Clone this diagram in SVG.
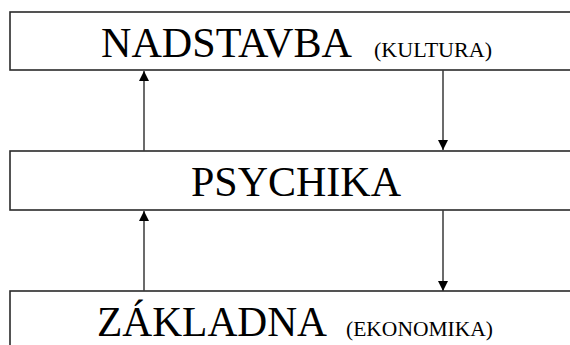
<svg xmlns="http://www.w3.org/2000/svg" width="570" height="345" viewBox="0 0 570 345">
<defs>
<style>
.box{fill:#fff;stroke:#2a2a2a;stroke-width:1.6}
.big{font-family:"Liberation Serif","Times New Roman",serif;font-size:42px;fill:#000}
.small{font-family:"Liberation Serif","Times New Roman",serif;font-size:22px;fill:#000}
.conn{stroke:#3a3a3a;stroke-width:1.5;fill:none}
</style>
<marker id="ah" viewBox="0 0 10 10" refX="10" refY="5" markerWidth="10" markerHeight="10" markerUnits="userSpaceOnUse" orient="auto">
<path d="M0,0 L10,5 L0,10 Z" fill="#000"/>
</marker>
</defs>
<rect width="570" height="345" fill="#fff"/>
<g id="nadstavba">
<rect class="box" x="10" y="12" width="580" height="58"/>
<text class="big" x="101" y="57" textLength="251" lengthAdjust="spacingAndGlyphs">NADSTAVBA</text>
<text class="small" x="374" y="57" textLength="118" lengthAdjust="spacingAndGlyphs">(KULTURA)</text>
</g>
<g id="psychika">
<rect class="box" x="10" y="151" width="580" height="59"/>
<text class="big" x="191" y="196" textLength="210" lengthAdjust="spacingAndGlyphs">PSYCHIKA</text>
</g>
<g id="zakladna">
<rect class="box" x="10" y="291" width="580" height="80"/>
<text class="big" x="97" y="336" textLength="230" lengthAdjust="spacingAndGlyphs">ZÁKLADNA</text>
<text class="small" x="346" y="336" textLength="147" lengthAdjust="spacingAndGlyphs">(EKONOMIKA)</text>
</g>
<g id="connectors">
<line class="conn" x1="144" y1="151" x2="144" y2="71" marker-end="url(#ah)"/>
<line class="conn" x1="443" y1="70" x2="443" y2="150" marker-end="url(#ah)"/>
<line class="conn" x1="144" y1="291" x2="144" y2="211" marker-end="url(#ah)"/>
<line class="conn" x1="443" y1="210" x2="443" y2="291" marker-end="url(#ah)"/>
</g>
</svg>
